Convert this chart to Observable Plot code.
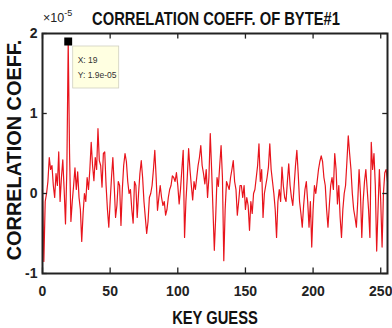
<!DOCTYPE html>
<html><head><meta charset="utf-8">
<script src="https://cdn.jsdelivr.net/npm/d3@7"></script>
<script src="https://cdn.jsdelivr.net/npm/@observablehq/plot@0.6"></script>
<style>
html,body{margin:0;padding:0;background:#fff;}
#chart{width:392px;height:328px;position:relative;}
</style></head>
<body><div id="chart"></div>
<script>
// Correlation coefficient (units of 1e-5) for each key guess 0..255
const keyGuess = d3.range(0, 256);
const corr = [
 0.05,-0.85,-0.1,0.0,0.15,0.45,0.3,0.35,0.1,-0.05,
 0.25,0.1,0.52,-0.1,0.2,0.42,0.05,-0.38,0.3,1.9,
 0.5,-0.35,-0.1,0.1,0.32,0.05,0.27,-0.05,-0.2,-0.6,
 -0.25,0.0,-0.1,0.2,0.05,0.3,0.64,0.35,0.16,0.45,
 0.3,0.81,0.41,0.35,0.08,0.5,0.52,0.1,-0.2,-0.42,
 -0.1,0.2,0.45,0.1,-0.3,-0.15,0.15,0.1,-0.4,0.05,
 0.35,0.5,0.4,0.15,0.0,0.05,-0.2,-0.37,0.15,0.1,
 -0.3,0.0,0.25,0.41,0.2,-0.1,-0.3,-0.5,-0.35,-0.05,
 0.0,0.1,0.3,0.54,0.2,-0.21,-0.05,0.1,-0.05,-0.15,
 -0.1,-0.27,-0.2,-0.05,0.05,0.1,0.22,0.2,0.15,0.26,
 0.1,-0.13,0.05,0.3,0.54,-0.55,-0.1,0.2,0.56,0.3,
 0.1,-0.08,0.15,0.05,0.2,0.35,0.45,0.6,0.35,0.25,
 0.12,0.3,-0.05,0.2,0.75,0.3,-0.2,-0.71,-0.3,0.2,
 0.09,0.35,0.6,0.2,-0.84,-0.2,0.15,0.1,0.05,0.2,
 0.3,0.41,0.15,0.05,-0.27,-0.1,0.1,0.1,-0.05,0.1,
 -0.2,-0.05,-0.15,-0.46,-0.1,-0.25,0.0,0.05,0.2,0.35,
 0.62,0.15,0.3,-0.3,0.0,0.1,0.2,0.33,0.62,0.3,
 0.15,0.0,-0.2,-0.55,-0.1,0.05,-0.1,0.33,0.1,-0.05,
 -0.1,0.15,0.37,0.1,-0.05,-0.15,0.1,0.35,0.54,0.25,
 -0.1,-0.25,-0.42,-0.15,0.05,0.15,-0.1,-0.42,-0.1,-0.67,
 -0.2,0.1,0.0,0.15,0.3,0.4,0.47,0.4,0.2,0.1,
 -0.2,-0.42,-0.15,0.1,0.2,0.05,0.5,0.3,-0.13,0.1,
 -0.3,-0.55,-0.2,0.0,0.1,0.4,0.72,0.5,0.3,0.0,
 -0.2,-0.3,-0.42,-0.1,0.3,0.0,-0.55,-0.1,0.15,0.3,
 0.05,-0.2,-0.55,0.64,0.3,0.5,0.1,-0.72,-0.2,0.3,
 -0.1,-0.67,0.0,0.26,0.3,0.15
];
const xTicks = [0, 50, 100, 150, 200, 250];
const yTicks = [-1, 0, 1, 2];
const titleText = "CORRELATION COEFF. OF BYTE#1";
const xLabel = "KEY GUESS";
const yLabel = "CORRELATION COEFF.";
const tipKey = 19;
const tipValue = 1.9;
const tipLines = ["X: 19", "Y: 1.9e-05"];

const FONT = "'Liberation Sans',Arial,sans-serif";
const data = keyGuess.map((k, i) => ({k, v: corr[i]}));
const xDom = [0, 255], yDom = [-1, 2];

const chart = Plot.plot({
  width: 392, height: 328,
  marginLeft: 42, marginRight: 5, marginTop: 33, marginBottom: 55,
  style: {fontFamily: FONT, background: "#fff", overflow: "visible"},
  x: {domain: xDom},
  y: {domain: yDom},
  marks: [
    Plot.line(data, {x: "k", y: "v", stroke: "#e8141c", strokeWidth: 1.2}),
    Plot.ruleX(xTicks, {x: d => d, y1: yDom[0], y2: yDom[0] + 0.07, stroke: "#222", strokeWidth: 1.3}),
    Plot.ruleX(xTicks, {x: d => d, y1: yDom[1], y2: yDom[1] - 0.07, stroke: "#222", strokeWidth: 1.3}),
    Plot.ruleY(yTicks, {y: d => d, x1: xDom[0], x2: xDom[0] + 3.5, stroke: "#222", strokeWidth: 1.3}),
    Plot.ruleY(yTicks, {y: d => d, x1: xDom[1], x2: xDom[1] - 3.5, stroke: "#222", strokeWidth: 1.3}),
    Plot.frame({stroke: "#222", strokeWidth: 2}),
    Plot.axisX(xTicks, {tickSize: 0, tickPadding: 13, fontSize: 14, fontWeight: "bold", fill: "#222", label: null, tickFormat: d => String(d)}),
    Plot.axisY(yTicks, {tickSize: 0, tickPadding: 5, fontSize: 14, fontWeight: "bold", fill: "#222", label: null, tickFormat: d => String(d)}),
    Plot.dot([{k: tipKey, v: tipValue}], {x: "k", y: "v", symbol: "square", r: 3.6, fill: "#000", stroke: "#000"})
  ]
});

const svg = d3.select(chart);
const sx = chart.scale("x"), sy = chart.scale("y");
const px = sx.apply(tipKey), py = sy.apply(tipValue);
const g = svg.append("g").attr("text-anchor", "start");
g.append("rect").attr("x", px + 5).attr("y", py + 5).attr("width", 46).attr("height", 42)
  .attr("fill", "#ffffe1").attr("stroke", "#d0d0c0").attr("stroke-width", 0.8);
tipLines.forEach((t, i) => {
  g.append("text").attr("x", px + 10).attr("y", py + 22 + i * 15).attr("font-size", 8.5)
    .attr("text-anchor", "start").style("font-family", FONT).attr("fill", "#333").text(t);
});
svg.append("text").attr("transform", "translate(216,25) scale(0.82,1)").attr("text-anchor", "middle")
  .attr("font-size", 18).attr("font-weight", "bold").attr("fill", "#111").text(titleText);
const m = svg.append("text").attr("x", 43).attr("y", 22).attr("text-anchor", "start")
  .attr("font-size", 12.5).attr("fill", "#222");
m.append("tspan").text("×10");
m.append("tspan").attr("dy", -6).attr("font-size", 9).text("-5");
svg.append("text").attr("transform", "translate(215,324) scale(0.82,1)").attr("text-anchor", "middle")
  .attr("font-size", 18).attr("font-weight", "bold").attr("fill", "#111").text(xLabel);
svg.append("text").attr("transform", "translate(21,150) rotate(-90) scale(1.02,1)")
  .attr("text-anchor", "middle").attr("font-size", 19.5).attr("font-weight", "bold").attr("fill", "#111").text(yLabel);

document.getElementById("chart").appendChild(chart);
</script></body></html>
